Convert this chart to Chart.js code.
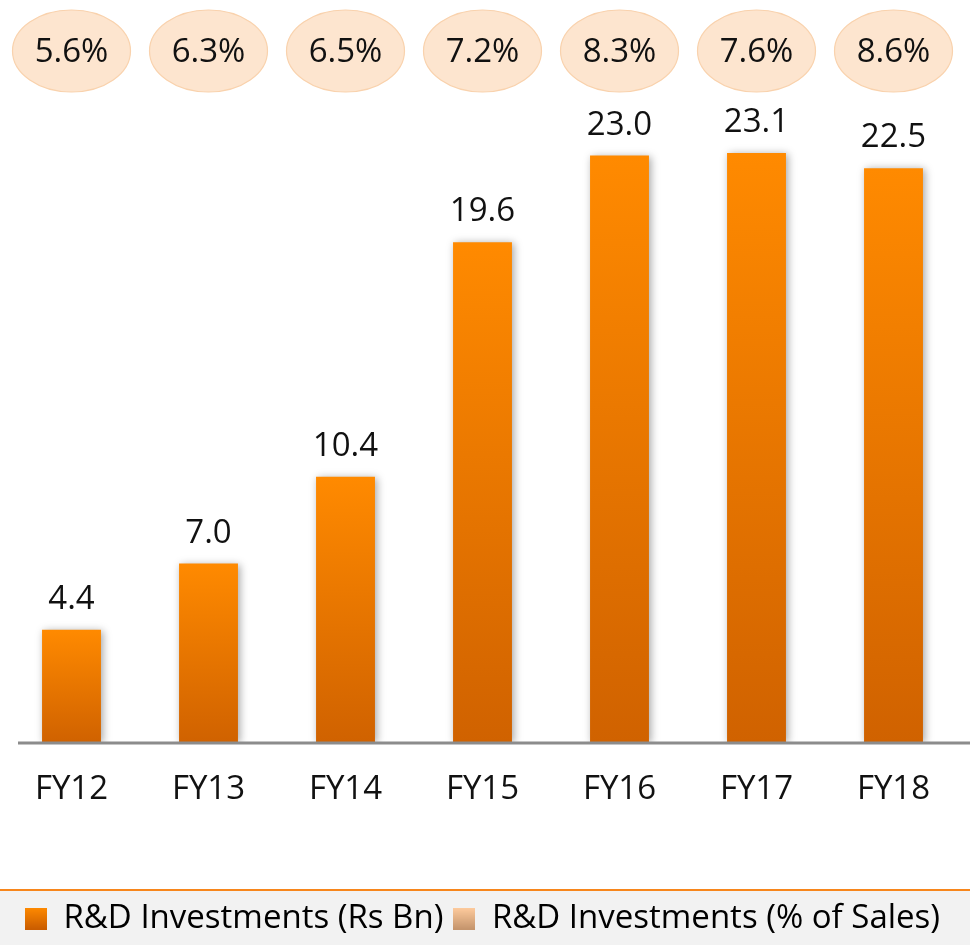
<!DOCTYPE html>
<html>
<head>
<meta charset="utf-8">
<script src="https://cdn.jsdelivr.net/npm/chart.js@4.4.1/dist/chart.umd.min.js"></script>
<style>
  html, body { margin: 0; padding: 0; background: #fff; }
  #wrap { width: 970px; height: 945px; position: relative; }
</style>
</head>
<body>
<div id="wrap"><canvas id="rdChart"></canvas></div>
<script>
const years = ["FY12", "FY13", "FY14", "FY15", "FY16", "FY17", "FY18"];
const rdSpend = [4.4, 7.0, 10.4, 19.6, 23.0, 23.1, 22.5];      // Rs Bn
const rdShare = [5.6, 6.3, 6.5, 7.2, 8.3, 7.6, 8.6];            // % of sales
const seriesNames = ["R&D Investments (Rs Bn)", "R&D Investments (% of Sales)"];

const FONT = "'Open Sans', 'Noto Sans', sans-serif";
const TEXT_SIZE = 33;

// small gradient swatch used as legend marker
function swatch(top, bottom) {
  const c = document.createElement("canvas");
  c.width = 22;
  c.height = 22;
  const g = c.getContext("2d");
  const grad = g.createLinearGradient(0, 0, 0, 22);
  grad.addColorStop(0, top);
  grad.addColorStop(1, bottom);
  g.fillStyle = grad;
  g.fillRect(0, 0, 22, 22);
  return c;
}
const markers = [swatch("#ff8a00", "#c95c00"), swatch("#ffcc9e", "#c4946c")];

function barFill(ctx) {
  const chart = ctx.chart;
  const y = chart.scales.y;
  if (!chart.chartArea || !y || ctx.dataIndex === undefined) return "#f07d00";
  const top = y.getPixelForValue(ctx.raw);
  const base = y.getPixelForValue(0);
  const grad = chart.ctx.createLinearGradient(0, top, 0, base);
  grad.addColorStop(0, "#ff8a00");
  grad.addColorStop(1, "#d06200");
  return grad;
}

// soft drop shadow behind the bars
const barShadow = {
  id: "barShadow",
  beforeDatasetsDraw(chart) {
    const ctx = chart.ctx;
    ctx.save();
    ctx.shadowColor = "rgba(0,0,0,0.35)";
    ctx.shadowBlur = 8;
    ctx.shadowOffsetX = 2;
    ctx.shadowOffsetY = 1;
  },
  afterDatasetsDraw(chart) {
    chart.ctx.restore();
  }
};

// grey legend band with orange rule above it
const legendBand = {
  id: "legendBand",
  beforeDraw(chart) {
    const ctx = chart.ctx;
    const lg = chart.legend;
    const top = lg.top + lg.options.labels.padding - 11;
    ctx.save();
    ctx.fillStyle = "#f2f2f2";
    ctx.fillRect(0, top, chart.width, chart.height - top);
    ctx.fillStyle = "#f7861c";
    ctx.fillRect(0, top - 2, chart.width, 2);
    ctx.restore();
  }
};

// baseline, value labels and the % of sales ovals
const decorations = {
  id: "decorations",
  afterDraw(chart) {
    const ctx = chart.ctx;
    const x = chart.scales.x;
    const y = chart.scales.y;
    const meta = chart.getDatasetMeta(0);
    ctx.save();

    const base = y.getPixelForValue(0);
    ctx.strokeStyle = "#8c8c8c";
    ctx.lineWidth = 3;
    ctx.beginPath();
    ctx.moveTo(chart.chartArea.left + 15, base + 1);
    ctx.lineTo(chart.width, base + 1);
    ctx.stroke();

    ctx.fillStyle = "#111";
    ctx.font = TEXT_SIZE + "px " + FONT;
    ctx.textAlign = "center";
    ctx.textBaseline = "alphabetic";
    meta.data.forEach((bar, i) => {
      ctx.fillText(rdSpend[i].toFixed(1), bar.x, bar.y - 21);
    });

    const cy = chart.chartArea.top + 23;
    rdShare.forEach((v, i) => {
      const cx = x.getPixelForValue(i);
      ctx.beginPath();
      ctx.ellipse(cx, cy, 59, 41, 0, 0, Math.PI * 2);
      ctx.fillStyle = "#fde5cf";
      ctx.fill();
      ctx.strokeStyle = "#f9d2ad";
      ctx.lineWidth = 1.2;
      ctx.stroke();
      ctx.fillStyle = "#111";
      ctx.textBaseline = "middle";
      ctx.fillText(v.toFixed(1) + "%", cx, cy + 2);
    });
    ctx.restore();
  }
};

new Chart(document.getElementById("rdChart"), {
  type: "bar",
  data: {
    labels: years,
    datasets: [
      {
        label: seriesNames[0],
        data: rdSpend,
        backgroundColor: barFill,
        barPercentage: 0.43,
        categoryPercentage: 1
      }
    ]
  },
  options: {
    responsive: true,
    maintainAspectRatio: false,
    animation: false,
    layout: { padding: { top: 28, left: 3, right: 8, bottom: 0 } },
    scales: {
      x: {
        grid: { display: false },
        border: { display: false },
        ticks: {
          color: "#111",
          padding: 20,
          font: { family: FONT, size: TEXT_SIZE }
        },
        afterFit(scale) {
          // leave the gap between tick labels and the legend band
          scale.height = 945 - 742 - scale.chart.legend.height;
        }
      },
      y: {
        display: false,
        min: 0,
        max: 28
      }
    },
    plugins: {
      tooltip: { enabled: false },
      legend: {
        position: "bottom",
        labels: {
          usePointStyle: true,
          boxWidth: 22,
          boxHeight: 22,
          padding: 10,
          color: "#111",
          font: { family: FONT, size: TEXT_SIZE },
          generateLabels() {
            return seriesNames.map((name, i) => ({
              text: name,
              pointStyle: markers[i],
              fillStyle: "transparent",
              strokeStyle: "transparent",
              lineWidth: 0,
              hidden: false,
              datasetIndex: 0
            }));
          }
        }
      }
    }
  },
  plugins: [legendBand, barShadow, decorations]
});
</script>
</body>
</html>
